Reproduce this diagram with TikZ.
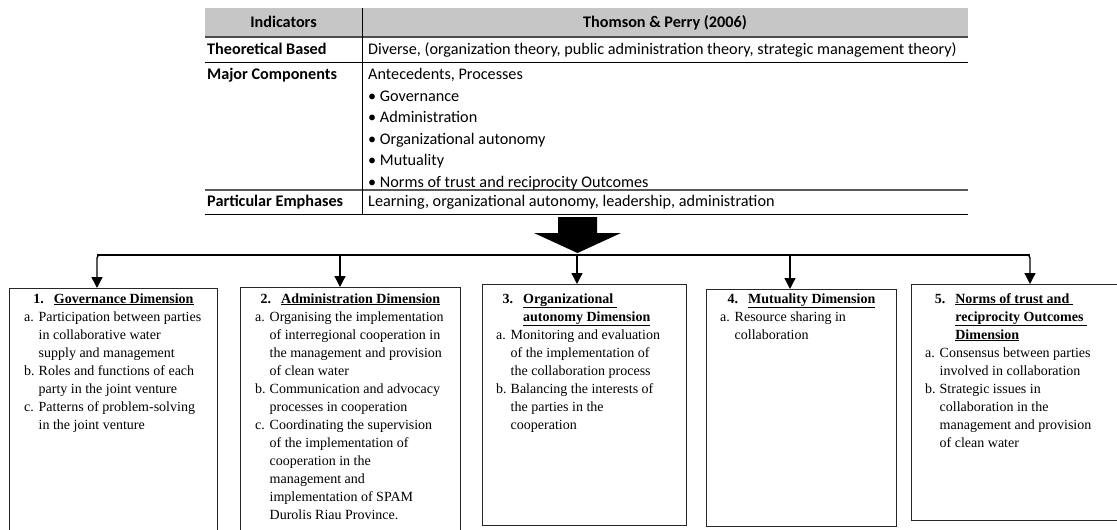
\documentclass[tikz,border=0pt]{standalone}
\usepackage{fontspec}
\setmainfont{Liberation Serif}
\newfontfamily\tabfont{Carlito}
\usetikzlibrary{arrows.meta}

\newcommand{\dimtitle}[2]{\begin{tabular}[t]{@{}p{20.5pt}@{}l@{}}#1 & #2\end{tabular}}
\newcommand{\dimlist}[1]{\begin{tabular}[t]{@{}p{14.5pt}@{}l@{}}#1\end{tabular}}

\begin{document}
\begin{tikzpicture}[x=1pt,y=-1pt,
  tabtxt/.style={font=\tabfont\fontsize{16.2}{19}\selectfont, inner sep=0pt, anchor=base west},
  tabhead/.style={font=\tabfont\bfseries\fontsize{16.2}{19}\selectfont, inner sep=0pt, anchor=base},
  tablabel/.style={font=\tabfont\bfseries\fontsize{16.2}{19}\selectfont, inner sep=0pt, anchor=base west},
  dimbox/.style={draw=black!85, line width=0.9pt, anchor=north west, inner sep=0pt},
  dimhead/.style={font=\bfseries\fontsize{14}{18}\selectfont, inner sep=0pt, anchor=base},
  dimitems/.style={font=\fontsize{14}{18}\selectfont, inner sep=0pt, anchor=base west},
  branch/.style={line width=1.3pt, -{Triangle[width=11pt,length=11pt]}}]
\useasboundingbox (0,0) rectangle (1117,530);

% Table
\fill[gray!45] (205,8) rectangle (968,37);
\draw[black!70, line width=1.5pt] (205,37) -- (968,37);
\draw[line width=0.8pt] (205,62) -- (968,62);
\draw[black!65, line width=1.3pt] (205,190) -- (968,190);
\draw[line width=1pt] (205,214) -- (968,214);
\draw[line width=0.8pt] (362,8) -- (362,214);

\node[tabhead] (ind) at (283.5,27.5) {Indicators};
\node[tabhead] (tp) at (665,27.5) {Thomson \& Perry (2006)};

\node[tablabel] (theo) at (207,54.5) {Theoretical Based};
\node[tablabel] (major) at (207,79.5) {Major Components};
\node[tablabel] (emph) at (207,206.5) {Particular Emphases};

\node[tabtxt] (diverse) at (368,54.5) {Diverse, (organization theory, public administration theory, strategic management theory)};
\node[tabtxt] (ante) at (368,79.5) {Antecedents, Processes};
\foreach \t [count=\i] in {Governance, Administration, Organizational autonomy, Mutuality, Norms of trust and reciprocity Outcomes}
  \node[tabtxt] (comp\i) at (368,79.5+21.5*\i) {• \t};
\node[tabtxt] (learn) at (368,206.5) {Learning, organizational autonomy, leadership, administration};

% Big arrow
\fill (558,217) -- (597,217) -- (597,233) -- (621,233) -- (577.5,253) -- (534,233) -- (558,233) -- cycle;

% Boxes
\node[dimbox, minimum width=208pt, minimum height=250pt] (box1) at (9,288) {};
\node[dimbox, minimum width=220pt, minimum height=250pt] (box2) at (240,287) {};
\node[dimbox, minimum width=204pt, minimum height=241pt] (box3) at (482,284) {};
\node[dimbox, minimum width=190pt, minimum height=237pt] (box4) at (706,289) {};
\node[dimbox, minimum width=215pt, minimum height=236pt] (box5) at (911,284) {};

% Branches
\coordinate (d1) at (97,255);
\coordinate (d2) at (340,255);
\coordinate (d3) at (577,255);
\coordinate (d4) at (790,255);
\coordinate (d5) at (1030,255);
\draw[line width=1.3pt] (d1) -- (d5);
\draw[branch, rounded corners=3pt] (d2) -- (d1) -- (d1 |- box1.north);
\draw[branch, rounded corners=3pt] (d4) -- (d5) -- (d5 |- box5.north);
\foreach \i in {2,3,4}
  \draw[branch] (d\i) -- (d\i |- box\i.north);

% Box texts
\coordinate (hline) at (0,303);
\node[dimhead] (head1) at (box1.north |- hline) {\dimtitle{1.}{\underline{Governance Dimension}}};
\node[dimhead] (head2) at (box2.north |- hline) {\dimtitle{2.}{\underline{Administration Dimension}}};
\node[dimhead] (head3) at ([xshift=-8pt]box3.north |- hline) {\dimtitle{3.}{\underline{Organizational\ }\\ & \underline{autonomy Dimension}}};
\node[dimhead] (head4) at (box4.north |- hline) {\dimtitle{4.}{\underline{Mutuality Dimension}}};
\node[dimhead] (head5) at ([xshift=-8pt]box5.north |- hline) {\dimtitle{5.}{\underline{Norms of trust and\ }\\ & \underline{reciprocity Outcomes\ }\\ & \underline{Dimension}}};

\node[dimitems] (list1) at ([xshift=15pt,yshift=-18pt]box1.west |- hline) {\dimlist{
  a. & Participation between parties\\ & in collaborative water\\ & supply and management\\
  b. & Roles and functions of each\\ & party in the joint venture\\
  c. & Patterns of problem-solving\\ & in the joint venture}};
\node[dimitems] (list2) at ([xshift=15pt,yshift=-18pt]box2.west |- hline) {\dimlist{
  a. & Organising the implementation\\ & of interregional cooperation in\\ & the management and provision\\ & of clean water\\
  b. & Communication and advocacy\\ & processes in cooperation\\
  c. & Coordinating the supervision\\ & of the implementation of\\ & cooperation in the\\ & management and\\ & implementation of SPAM\\ & Durolis Riau Province.}};
\node[dimitems] (list3) at ([xshift=14pt,yshift=-36pt]box3.west |- hline) {\dimlist{
  a. & Monitoring and evaluation\\ & of the implementation of\\ & the collaboration process\\
  b. & Balancing the interests of\\ & the parties in the\\ & cooperation}};
\node[dimitems] (list4) at ([xshift=14pt,yshift=-18pt]box4.west |- hline) {\dimlist{
  a. & Resource sharing in\\ & collaboration}};
\node[dimitems] (list5) at ([xshift=14pt,yshift=-54pt]box5.west |- hline) {\dimlist{
  a. & Consensus between parties\\ & involved in collaboration\\
  b. & Strategic issues in\\ & collaboration in the\\ & management and provision\\ & of clean water}};

\end{tikzpicture}
\end{document}
